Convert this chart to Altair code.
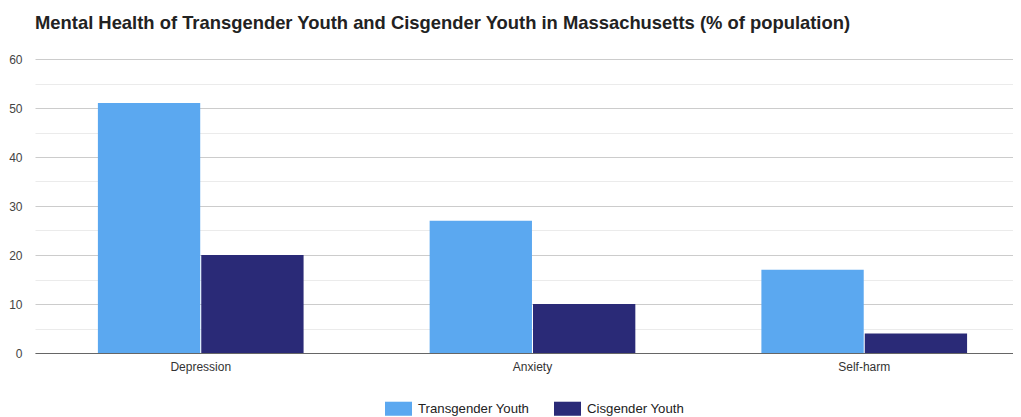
import altair as alt
import pandas as pd

categories = ["Depression", "Anxiety", "Self-harm"]
series_names = ["Transgender Youth", "Cisgender Youth"]
transgender = [51, 27, 17]
cisgender = [20, 10, 4]
colors = ["#5ba8f0", "#2a2a77"]

rows = []
for c, t, g in zip(categories, transgender, cisgender):
    rows.append({"category": c, "series": series_names[0], "value": t})
    rows.append({"category": c, "series": series_names[1], "value": g})
df = pd.DataFrame(rows)

FONT = "Liberation Sans"

chart = alt.Chart(df).mark_bar().encode(
    x=alt.X("category:N", sort=categories, title=None,
            scale=alt.Scale(paddingInner=0.38, paddingOuter=0.164, align=0.578),
            axis=alt.Axis(labelAngle=0, ticks=False, labelPadding=8, labelFontSize=12,
                          labelColor="#333", labelFont=FONT, domainColor="#666",
                          domainWidth=1, grid=False)),
    xOffset=alt.XOffset("series:N", sort=series_names,
                        scale=alt.Scale(paddingInner=0.01, paddingOuter=0)),
    y=alt.Y("value:Q", title=None,
            scale=alt.Scale(domain=[0, 60], nice=False),
            axis=alt.Axis(values=list(range(0, 61, 5)), ticks=False, domain=False,
                          labelPadding=13, labelFontSize=12, labelColor="#444",
                          labelFont=FONT,
                          labelExpr="datum.value % 10 == 0 ? datum.label : ''",
                          gridColor=alt.condition("datum.value % 10 == 0",
                                                  alt.value("#cccccc"), alt.value("#ebebeb")),
                          gridWidth=1)),
    color=alt.Color("series:N", sort=series_names,
                    scale=alt.Scale(domain=series_names, range=colors),
                    legend=alt.Legend(title=None, orient="none", direction="horizontal",
                                      legendX=350, legendY=336,
                                      symbolType="M-1,-0.52H1V0.52H-1Z", symbolSize=729,
                                      symbolStrokeWidth=0, symbolOpacity=1,
                                      labelFontSize=13.2, labelColor="#222", labelFont=FONT,
                                      labelOffset=6, columnPadding=24)),
).properties(
    width=978,
    height=294,
    title=alt.TitleParams(
        "Mental Health of Transgender Youth and Cisgender Youth in Massachusetts (% of population)",
        anchor="start", frame="group", fontSize=18.4, fontWeight="bold", font=FONT,
        color="#222", offset=21),
    padding={"left": 0, "top": 5, "right": 0, "bottom": 0},
).configure_view(stroke=None)

chart.save("out.html", embed_options={"renderer": "svg", "actions": False})
